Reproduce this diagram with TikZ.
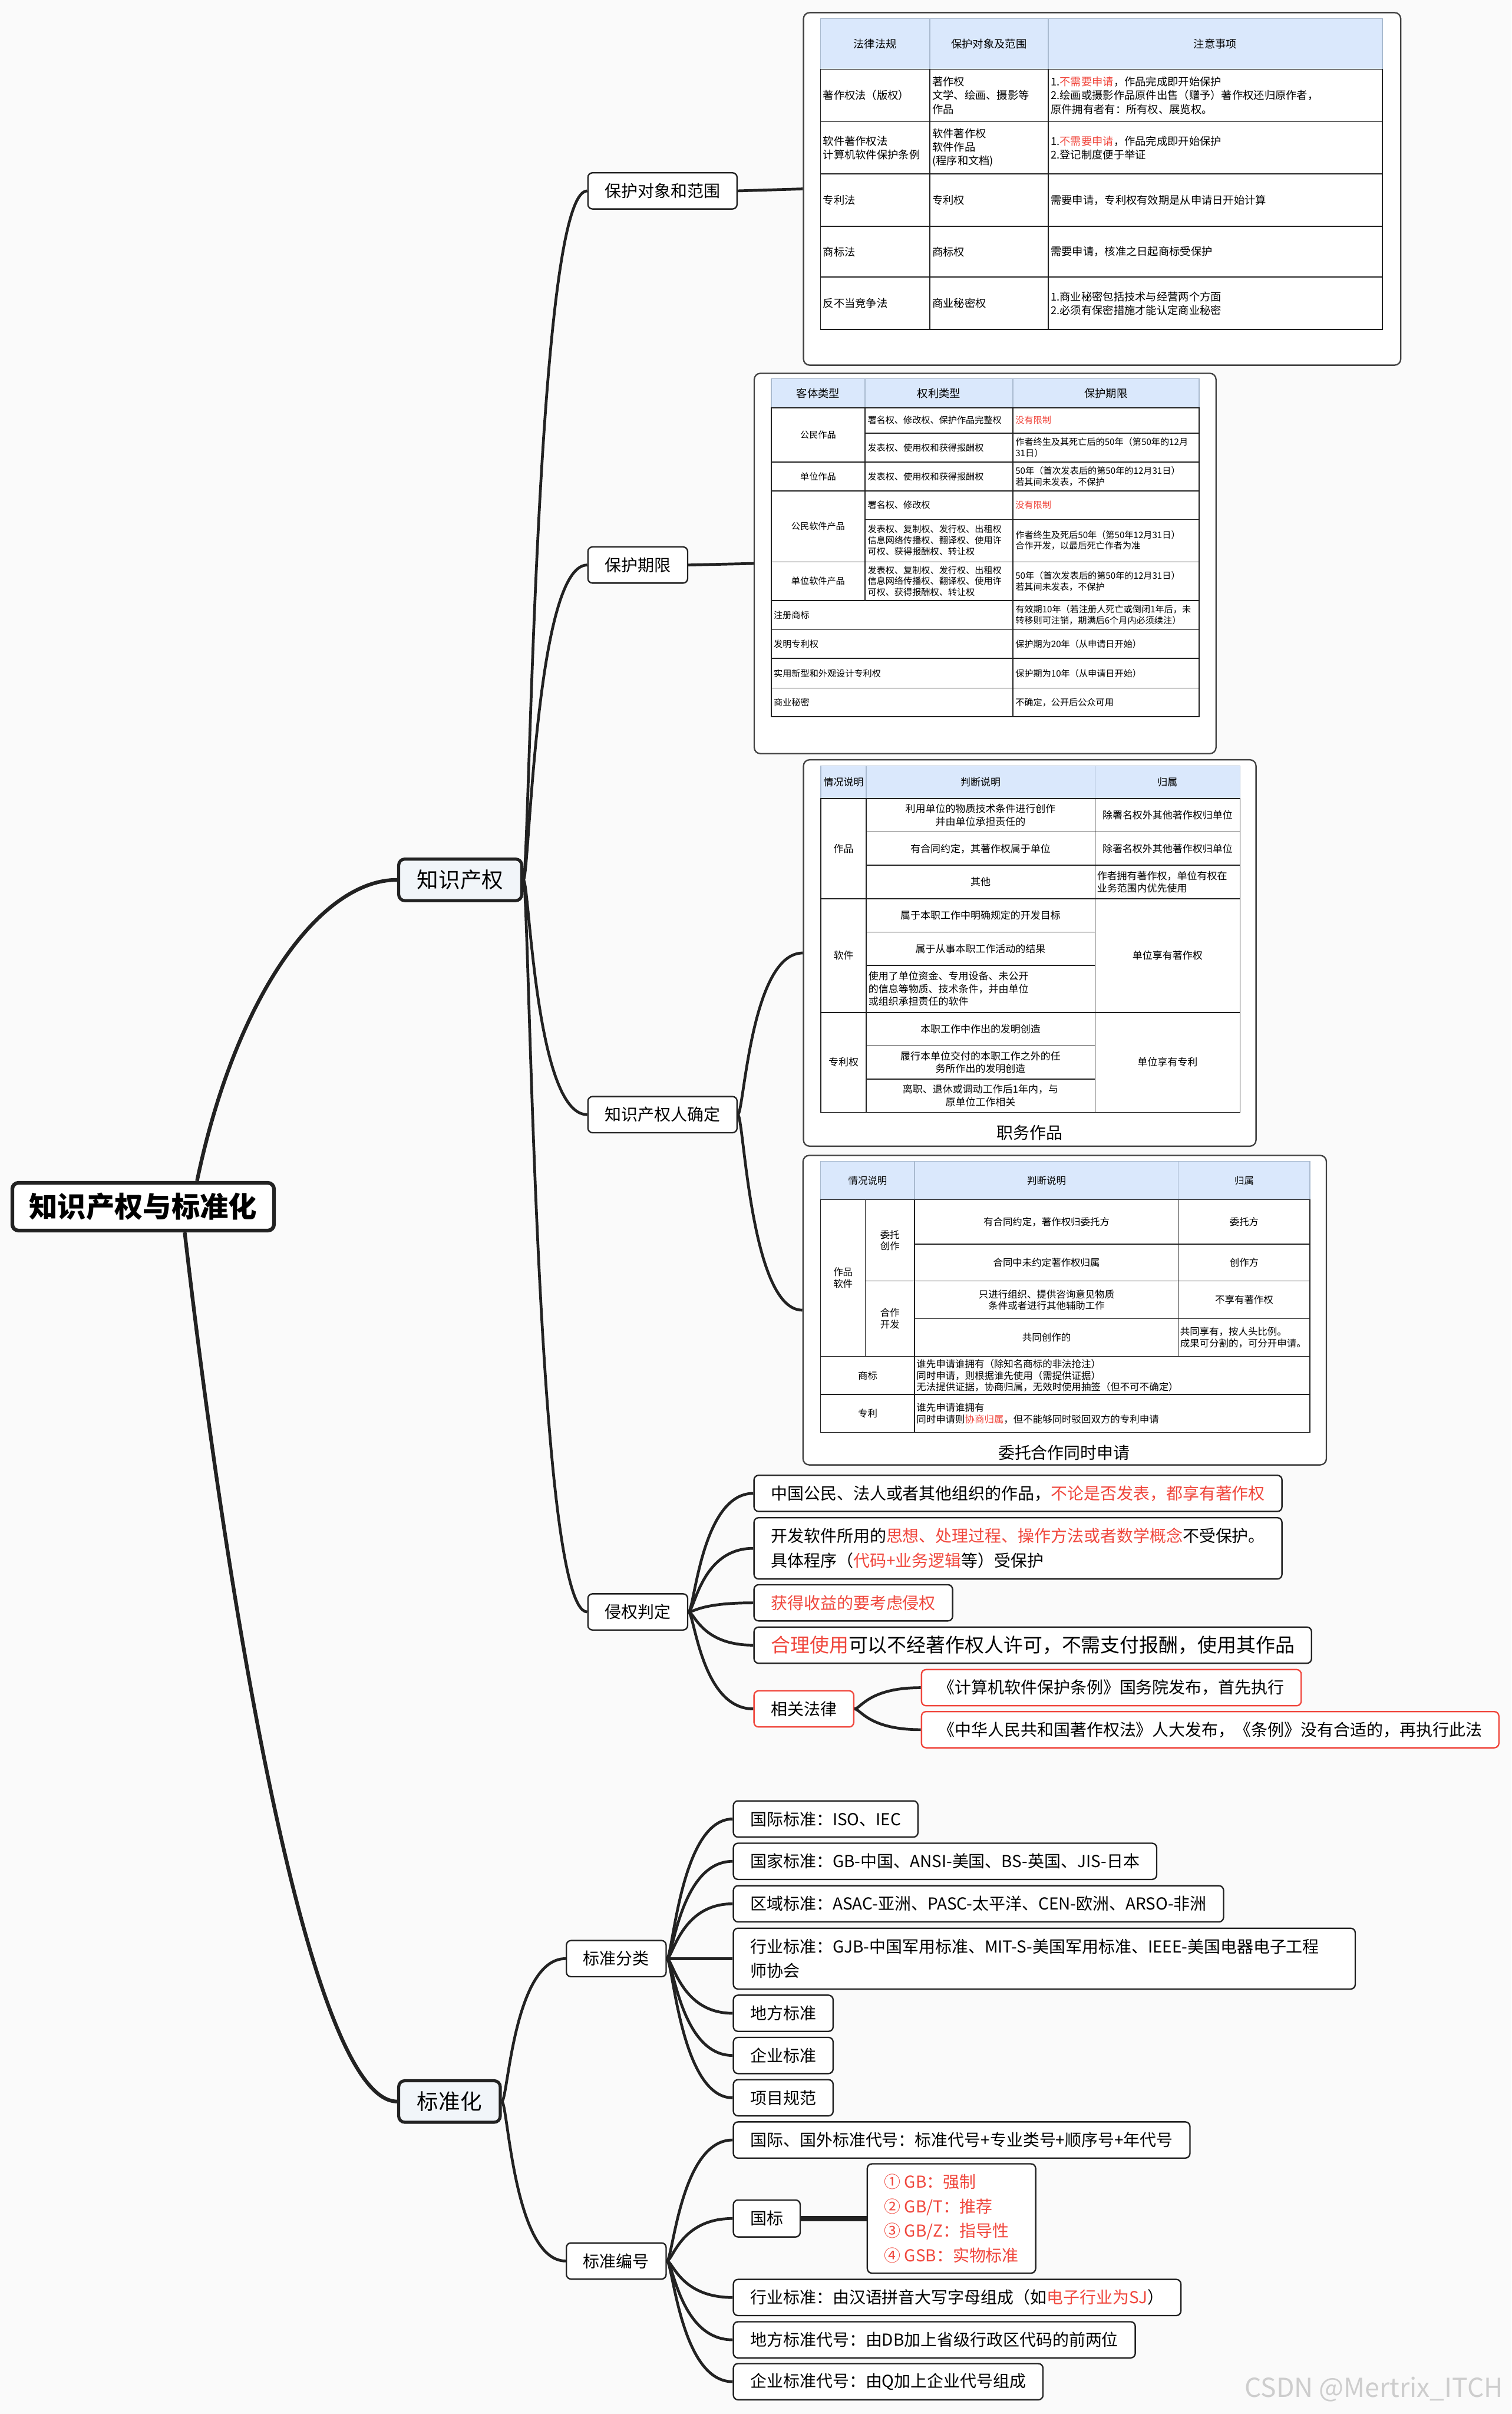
\documentclass[tikz,border=0pt]{standalone}
\usepackage{fontspec}
\setmainfont{Noto Sans CJK SC}
\usepackage{tikz}
\usetikzlibrary{positioning}
\usepackage{xcolor}

\definecolor{bgcol}{HTML}{FAFAFA}
\definecolor{ink}{HTML}{222222}
\definecolor{redtxt}{HTML}{F0473D}
\definecolor{headfill}{HTML}{DAE8FC}
\definecolor{headline}{HTML}{A9BACF}
\definecolor{ipfill}{HTML}{F1F5F9}
\definecolor{wmcol}{HTML}{CDCDCD}
\newcommand{\hl}[1]{\textcolor{redtxt}{#1}}

\tikzset{
  conn/.style={draw=ink, line width=1.8pt},
  mm/.style={to path={.. controls +(4,0) and +(-34,0) .. (\tikztotarget)}},
  rootbox/.style={draw=ink, line width=2.4pt, rounded corners=4pt, fill=white, inner xsep=11pt, inner ysep=0pt, minimum height=31pt, font=\fontsize{18.5}{20}\selectfont\bfseries},
  mainbox/.style={draw=ink, line width=2pt, rounded corners=4pt, fill=ipfill, inner xsep=12pt, inner ysep=0pt, minimum height=27pt, font=\fontsize{14}{16}\selectfont},
  subbox/.style={draw=ink, line width=0.9pt, rounded corners=3pt, fill=white, inner xsep=11pt, inner ysep=0pt, minimum height=23.5pt, anchor=west, font=\fontsize{10.7}{16}\selectfont},
  leafbox/.style={subbox, align=left},
  redbox/.style={draw=redtxt},
  tabbox/.style={draw=ink!85, line width=0.9pt, rounded corners=4pt, fill=white, inner sep=0pt},
  grid/.style={draw=ink, line width=0.6pt},
  hgrid/.style={draw=headline, line width=0.6pt},
  tA/.style={inner sep=0pt, align=left, font=\fontsize{7}{8.9}\selectfont},
  tB/.style={inner sep=0pt, align=left, font=\fontsize{5.8}{7.2}\selectfont},
  tC/.style={inner sep=0pt, align=center, font=\fontsize{6.5}{8.2}\selectfont},
  tD/.style={inner sep=0pt, align=center, font=\fontsize{6.3}{7.4}\selectfont},
  caption/.style={inner sep=0pt, font=\fontsize{10.7}{12}\selectfont}
}

\begin{document}
\begin{tikzpicture}[x=1pt, y=-1pt]
\fill[bgcol] (0,0) rectangle (982,1568);
\useasboundingbox (0,0) rectangle (982,1568);

% centre and first level
\node[rootbox] (root) at (93,783.8) {知识产权与标准化};
\node[mainbox] (ip) at (299,571.5) {知识产权};
\node[mainbox] (std) at (292,1365) {标准化};

\node[subbox] (scope) at (381.5,124) {保护对象和范围};
\node[subbox] (term) at (381.5,367) {保护期限};
\node[subbox] (owner) at (381.5,724) {知识产权人确定};
\node[subbox] (infr) at (381.5,1047) {侵权判定};

% table frames
\node[tabbox, minimum width=388pt, minimum height=229pt] (tabA) at (716,122.7) {};
\node[tabbox, minimum width=300pt, minimum height=247pt] (tabB) at (640,366) {};
\node[tabbox, minimum width=294pt, minimum height=251pt] (tabC) at (669,619) {};
\node[tabbox, minimum width=340pt, minimum height=201pt] (tabD) at (691.7,851) {};

% table A: laws
\fill[headfill] (533,12) rectangle (898,45);
\draw[hgrid] (533,12) rectangle (898,45) (604,12) -- (604,45) (681,12) -- (681,45);
\draw[grid] (533,45) rectangle (898,214);
\foreach \y in {79,113,147,180} \draw[grid] (533,\y) -- (898,\y);
\foreach \x in {604,681} \draw[grid] (\x,45) -- (\x,214);
\foreach \x/\t [count=\i] in {568.5/法律法规, 642.5/保护对象及范围, 789.5/注意事项}
  \node[tA] (ah\i) at (\x,28.5) {\t};
\foreach \x/\y/\t [count=\i] in {
    534.5/62/著作权法（版权）,
    534.5/130/专利法, 605.5/130/专利权,
    682.5/130/需要申请，专利权有效期是从申请日开始计算,
    534.5/163.5/商标法, 605.5/163.5/商标权,
    682.5/163.5/需要申请，核准之日起商标受保护,
    534.5/197/反不当竞争法, 605.5/197/商业秘密权}
  \node[tA, anchor=west] (a\i) at (\x,\y) {\t};
\node[tA, anchor=west] (aw1) at (605.5,62) {著作权\\文学、绘画、摄影等\\作品};
\node[tA, anchor=west] (aw2) at (682.5,62) {1.\hl{不需要申请}，作品完成即开始保护\\2.绘画或摄影作品原件出售（赠予）著作权还归原作者，\\原件拥有者有：所有权、展览权。};
\node[tA, anchor=west] (aw3) at (534.5,96) {软件著作权法\\计算机软件保护条例};
\node[tA, anchor=west] (aw4) at (605.5,96) {软件著作权\\软件作品\\(程序和文档)};
\node[tA, anchor=west] (aw5) at (682.5,96) {1.\hl{不需要申请}，作品完成即开始保护\\2.登记制度便于举证};
\node[tA, anchor=west] (aw6) at (682.5,197) {1.商业秘密包括技术与经营两个方面\\2.必须有保密措施才能认定商业秘密};

% table B: terms
\fill[headfill] (501,246) rectangle (779,265);
\draw[hgrid] (501,246) rectangle (779,265) (562,246) -- (562,265) (658,246) -- (658,265);
\draw[grid] (501,265) rectangle (779,465.6);
\foreach \y in {300.2,318.8,365,390,409,427.6,447} \draw[grid] (501,\y) -- (779,\y);
\foreach \y in {281.3,337.5} \draw[grid] (562,\y) -- (779,\y);
\draw[grid] (562,265) -- (562,390) (658,265) -- (658,465.6);
\foreach \x/\t [count=\i] in {531.5/客体类型, 610/权利类型, 718.5/保护期限}
  \node[tB, font=\fontsize{7}{8}\selectfont] (bh\i) at (\x,255.5) {\t};
\foreach \y/\t [count=\i] in {282.6/公民作品, 309.5/单位作品, 341.9/公民软件产品, 377.5/单位软件产品}
  \node[tB] (bk\i) at (531.5,\y) {\t};
\foreach \x/\y/\t [count=\i] in {
    563.5/273/署名权、修改权、保护作品完整权,
    563.5/290.7/发表权、使用权和获得报酬权,
    563.5/309.5/发表权、使用权和获得报酬权,
    563.5/328/署名权、修改权,
    502.5/399.5/注册商标,
    502.5/418.3/发明专利权, 659.5/418.3/保护期为20年（从申请日开始）,
    502.5/437.3/实用新型和外观设计专利权, 659.5/437.3/保护期为10年（从申请日开始）,
    502.5/456.3/商业秘密, 659.5/456.3/不确定，公开后公众可用}
  \node[tB, anchor=west] (b\i) at (\x,\y) {\t};
\node[tB, anchor=west, text=redtxt] (bw1) at (659.5,273) {没有限制};
\node[tB, anchor=west] (bw2) at (659.5,290.7) {作者终生及其死亡后的50年（第50年的12月\\31日）};
\node[tB, anchor=west] (bw3) at (659.5,309.5) {50年（首次发表后的第50年的12月31日）\\若其间未发表，不保护};
\node[tB, anchor=west, text=redtxt] (bw4) at (659.5,328) {没有限制};
\node[tB, anchor=west] (bw5) at (563.5,351) {发表权、复制权、发行权、出租权\\信息网络传播权、翻译权、使用许\\可权、获得报酬权、转让权};
\node[tB, anchor=west] (bw6) at (659.5,351) {作者终生及死后50年（第50年12月31日）\\合作开发，以最后死亡作者为准};
\node[tB, anchor=west] (bw7) at (563.5,377.5) {发表权、复制权、发行权、出租权\\信息网络传播权、翻译权、使用许\\可权、获得报酬权、转让权};
\node[tB, anchor=west] (bw8) at (659.5,377.5) {50年（首次发表后的第50年的12月31日）\\若其间未发表，不保护};
\node[tB, anchor=west] (bw9) at (659.5,399.5) {有效期10年（若注册人死亡或倒闭1年后，未\\转移则可注销，期满后6个月内必须续注）};

% table C: work for hire
\fill[headfill] (533.3,497.4) rectangle (805.6,518.8);
\draw[hgrid] (533.3,497.4) rectangle (805.6,518.8) (562.7,497.4) -- (562.7,518.8) (711.4,497.4) -- (711.4,518.8);
\draw[grid] (533.3,518.8) rectangle (805.6,722.5);
\foreach \y in {583.7,657.6} \draw[grid] (533.3,\y) -- (805.6,\y);
\foreach \y in {540.3,562} \draw[grid] (562.7,\y) -- (805.6,\y);
\foreach \y in {605.4,627,679.3,700.9} \draw[grid] (562.7,\y) -- (711.4,\y);
\draw[grid] (562.7,518.8) -- (562.7,722.5) (711.4,518.8) -- (711.4,722.5);
\foreach \x/\y/\t [count=\i] in {
    548/508.1/情况说明, 637/508.1/判断说明, 758.5/508.1/归属,
    548/551.2/作品, 548/620.6/软件, 548/690/专利权,
    758.5/529.5/除署名权外其他著作权归单位,
    637/551.2/有合同约定，其著作权属于单位,
    758.5/551.2/除署名权外其他著作权归单位,
    637/572.8/其他,
    637/594.5/属于本职工作中明确规定的开发目标,
    637/616.2/属于从事本职工作活动的结果,
    758.5/620.6/单位享有著作权,
    637/668.4/本职工作中作出的发明创造,
    758.5/690/单位享有专利}
  \node[tC] (c\i) at (\x,\y) {\t};
\node[tC] (cw1) at (637,529.5) {利用单位的物质技术条件进行创作\\并由单位承担责任的};
\node[tC] (cw2) at (637,690.1) {履行本单位交付的本职工作之外的任\\务所作出的发明创造};
\node[tC] (cw3) at (637,711.7) {离职、退休或调动工作后1年内，与\\原单位工作相关};
\node[tC, anchor=west, align=left] (cw4) at (712.5,572.8) {作者拥有著作权，单位有权在\\业务范围内优先使用};
\node[tC, anchor=west, align=left] (cw5) at (564,642.3) {使用了单位资金、专用设备、未公开\\的信息等物质、技术条件，并由单位\\或组织承担责任的软件};
\node[caption] (capC) at (668.8,735.7) {职务作品};

% table D: commission and cooperation
\fill[headfill] (533.1,754.3) rectangle (851,779.2);
\draw[hgrid] (533.1,754.3) rectangle (851,779.2) (594.2,754.3) -- (594.2,779.2) (765.5,754.3) -- (765.5,779.2);
\draw[grid] (533.1,779.2) rectangle (851,930.4);
\foreach \y in {881.1,905.8} \draw[grid] (533.1,\y) -- (851,\y);
\draw[grid] (594.2,808) -- (851,808) (562.2,832) -- (851,832) (594.2,856.5) -- (851,856.5);
\draw[grid] (562.2,779.2) -- (562.2,881.1) (594.2,779.2) -- (594.2,930.4) (765.5,779.2) -- (765.5,881.1);
\foreach \x/\y/\t [count=\i] in {
    563.7/766.8/情况说明, 679.9/766.8/判断说明, 808.3/766.8/归属,
    563.7/893.5/商标, 563.7/918.1/专利,
    679.9/793.6/有合同约定，著作权归委托方, 808.3/793.6/委托方,
    679.9/820/合同中未约定著作权归属, 808.3/820/创作方,
    808.3/844.3/不享有著作权, 679.9/868.8/共同创作的}
  \node[tD] (d\i) at (\x,\y) {\t};
\node[tD] (dw1) at (547.7,830) {作品\\软件};
\node[tD] (dw2) at (578.2,805.6) {委托\\创作};
\node[tD] (dw3) at (578.2,856.5) {合作\\开发};
\node[tD] (dw4) at (679.9,844.3) {只进行组织、提供咨询意见物质\\条件或者进行其他辅助工作};
\node[tD, anchor=west, align=left] (dw5) at (766.5,868.8) {共同享有，按人头比例。\\成果可分割的，可分开申请。};
\node[tD, anchor=west, align=left] (dw6) at (595.2,893.5) {谁先申请谁拥有（除知名商标的非法抢注）\\同时申请，则根据谁先使用（需提供证据）\\无法提供证据，协商归属，无效时使用抽签（但不可不确定）};
\node[tD, anchor=west, align=left] (dw7) at (595.2,918.1) {谁先申请谁拥有\\同时申请则\hl{协商归属}，但不能够同时驳回双方的专利申请};
\node[caption] (capD) at (691.3,943.7) {委托合作同时申请};

% infringement
\node[leafbox] (inf1) at (489.4,970) {中国公民、法人或者其他组织的作品，\hl{不论是否发表，都享有著作权}};
\node[leafbox, minimum height=39.8pt] (inf2) at (489.4,1005.7) {开发软件所用的\hl{思想、处理过程、操作方法或者数学概念}不受保护。\\具体程序（\hl{代码+业务逻辑}等）受保护};
\node[leafbox, text=redtxt] (inf3) at (489.4,1041.1) {获得收益的要考虑侵权};
\node[leafbox, font=\fontsize{12.6}{16}\selectfont] (inf4) at (489.4,1068.6) {\hl{合理使用}可以不经著作权人许可，不需支付报酬，使用其作品};
\node[leafbox, redbox] (law) at (489.4,1110) {相关法律};
\node[leafbox, redbox] (law1) at (598.2,1096.2) {《计算机软件保护条例》国务院发布，首先执行};
\node[leafbox, redbox] (law2) at (598.2,1123.5) {《中华人民共和国著作权法》人大发布，《条例》没有合适的，再执行此法};

% standardisation
\node[subbox] (cls) at (367.5,1272.2) {标准分类};
\node[subbox] (num) at (367.5,1468.6) {标准编号};
\node[leafbox] (c1) at (476,1181.5) {国际标准：ISO、IEC};
\node[leafbox] (c2) at (476,1209) {国家标准：GB-中国、ANSI-美国、BS-英国、JIS-日本};
\node[leafbox] (c3) at (476,1236.6) {区域标准：ASAC-亚洲、PASC-太平洋、CEN-欧洲、ARSO-非洲};
\node[leafbox, minimum height=39.5pt, text width=382pt] (c4) at (476,1272.2) {行业标准：GJB-中国军用标准、MIT-S-美国军用标准、IEEE-美国电器电子工程\\师协会};
\node[leafbox] (c5) at (476,1307.7) {地方标准};
\node[leafbox] (c6) at (476,1335.1) {企业标准};
\node[leafbox] (c7) at (476,1362.6) {项目规范};
\node[leafbox] (n1) at (476,1390) {国际、国外标准代号：标准代号+专业类号+顺序号+年代号};
\node[leafbox, minimum height=24pt] (n2) at (476,1441) {国标};
\node[leafbox, minimum height=71pt, text=redtxt] (gbl) at (563,1441) {① GB：强制\\② GB/T：推荐\\③ GB/Z：指导性\\④ GSB：实物标准};
\node[leafbox] (n3) at (476,1492.3) {行业标准：由汉语拼音大写字母组成（如\hl{电子行业为SJ}）};
\node[leafbox] (n4) at (476,1519.8) {地方标准代号：由DB加上省级行政区代码的前两位};
\node[leafbox] (n5) at (476,1547) {企业标准代号：由Q加上企业代号组成};

% connectors
\draw[conn, line width=2.4pt] ([xshift=35pt]root.north) .. controls +(25,-120) and +(-50,0) .. (ip.west);
\draw[conn, line width=2.4pt] ([xshift=27pt]root.south) .. controls +(30,260) and +(-55,0) .. (std.west);
\foreach \n in {scope,term,owner,infr} \draw[conn] (ip.east) to[mm] (\n.west);
\draw[conn] (scope.east) -- (tabA.west);
\draw[conn] (term.east) -- (tabB.west);
\foreach \n in {tabC,tabD} \draw[conn] (owner.east) to[mm] (\n.west);
\foreach \n in {inf1,inf2,inf3,inf4,law} \draw[conn] (infr.east) to[mm] (\n.west);
\foreach \n in {law1,law2} \draw[conn] (law.east) to[mm] (\n.west);
\foreach \n in {cls,num} \draw[conn] (std.east) to[mm] (\n.west);
\foreach \n in {c1,c2,c3,c4,c5,c6,c7} \draw[conn] (cls.east) to[mm] (\n.west);
\foreach \n in {n1,n2,n3,n4,n5} \draw[conn] (num.east) to[mm] (\n.west);
\draw[conn, line width=3.5pt] (n2.east) -- (gbl.west);

\node[anchor=east, text=wmcol, font=\fontsize{17}{18}\selectfont] (mark) at (980,1552) {CSDN @Mertrix\_ITCH};
\end{tikzpicture}
\end{document}
